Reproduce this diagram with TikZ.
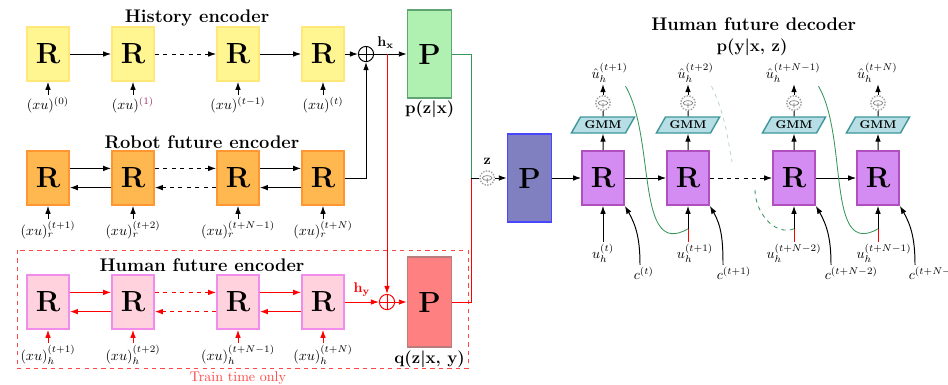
\documentclass[tikz,border=0pt]{standalone}
\usetikzlibrary{shapes.geometric,arrows.meta}

\definecolor{amarillo}{RGB}{255,246,145}
\definecolor{amarilloborde}{RGB}{255,232,120}
\definecolor{naranja}{RGB}{255,184,80}
\definecolor{naranjaborde}{RGB}{255,150,50}
\definecolor{rosa}{RGB}{255,210,222}
\definecolor{rosaborde}{RGB}{240,140,235}
\definecolor{lila}{RGB}{212,140,242}
\definecolor{lilaborde}{RGB}{175,80,190}
\definecolor{verdeP}{RGB}{176,240,176}
\definecolor{verdeborde}{RGB}{95,165,115}
\definecolor{rojoP}{RGB}{255,128,128}
\definecolor{rojoborde}{RGB}{185,125,125}
\definecolor{azulP}{RGB}{128,128,192}
\definecolor{azulborde}{RGB}{70,70,255}
\definecolor{celeste}{RGB}{182,222,228}
\definecolor{celesteborde}{RGB}{60,150,155}
\definecolor{curva}{RGB}{55,150,90}
\definecolor{tren}{RGB}{255,70,70}
\definecolor{morado}{RGB}{150,40,90}

\tikzset{
  caja/.style={draw, line width=1.2pt, minimum width=1.05cm, minimum height=1.35cm, inner sep=0pt, font=\huge\bfseries},
  bloque/.style={draw, line width=1.2pt, minimum width=1.1cm, minimum height=2.2cm, inner sep=0pt, font=\huge\bfseries},
  titulo/.style={font=\fontsize{13}{15}\selectfont\bfseries},
  etiq/.style={inner sep=1pt},
  dist/.style={inner sep=1pt, font=\large\bfseries},
  suma/.style={circle, draw, minimum size=0.38cm, inner sep=0pt,
    path picture={\draw (path picture bounding box.north) -- (path picture bounding box.south)
      (path picture bounding box.west) -- (path picture bounding box.east);}},
  muestra/.style={circle, draw=gray!75, densely dotted, line width=1pt, fill=white, minimum size=0.36cm, inner sep=0pt,
    path picture={\draw[gray, solid, line width=0.5pt] (path picture bounding box.center) ellipse (0.12cm and 0.06cm)
      (path picture bounding box.center) -- ++(0,-0.12);}},
  gmm/.style={trapezium, trapezium left angle=50, trapezium right angle=130, trapezium stretches body,
    draw=celesteborde, fill=celeste, line width=1pt, minimum width=1.58cm, minimum height=0.4cm,
    inner sep=1pt, font=\footnotesize\bfseries},
}

\begin{document}
\begin{tikzpicture}[>={Latex[length=2mm, width=1.4mm]}, line width=0.7pt]
\useasboundingbox (0,0) rectangle (23.7,-9.6);

% Codificador de historia
\node[titulo] (tH) at (4.925,-0.45) {History encoder};
\foreach \x/\n/\idx in {1.2/1/(0), 3.325/2/{\color{morado}(1)}, 5.95/3/(t-1), 8.075/4/(t)} {
	\node[caja, fill=amarillo, draw=amarilloborde] (h\n) at (\x,-1.35) {R};
	\node[etiq] (xh\n) at (\x,-2.62) {$(xu)^{\idx}$};
	\draw[->] (xh\n) -- (h\n);
}
\draw[->] (h1) -- (h2);
\draw[->, dashed] (h2) -- (h3);
\draw[->] (h3) -- (h4);

% Codificador futuro del robot
\node[titulo] (tR) at (5.05,-3.55) {Robot future encoder};
\foreach \x/\n/\idx in {1.2/1/t+1, 3.325/2/t+2, 5.95/3/t+N-1, 8.075/4/t+N} {
	\node[caja, fill=naranja, draw=naranjaborde] (r\n) at (\x,-4.45) {R};
	\node[etiq] (xr\n) at (\x,-5.75) {$(xu)_r^{(\idx)}$};
	\draw[->] (xr\n) -- (r\n);
}
\foreach \a/\b/\e in {1/2/solid, 2/3/dashed, 3/4/solid} {
	\draw[->, \e] ([yshift=0.24cm]r\a.east) -- ([yshift=0.24cm]r\b.west);
	\draw[->, \e] ([yshift=-0.24cm]r\b.west) -- ([yshift=-0.24cm]r\a.east);
}

% Codificador futuro del humano
\draw[tren, dashed, semithick] (0.425,-6.25) rectangle (11.7,-9.2);
\node[text=tren] (tt) at (5.95,-9.45) {Train time only};
\node[titulo] (tF) at (5.05,-6.62) {Human future encoder};
\foreach \x/\n/\idx in {1.2/1/t+1, 3.325/2/t+2, 5.95/3/t+N-1, 8.075/4/t+N} {
	\node[caja, fill=rosa, draw=rosaborde] (f\n) at (\x,-7.55) {R};
	\node[etiq] (xf\n) at (\x,-8.87) {$(xu)_h^{(\idx)}$};
	\draw[->, red] (xf\n) -- (f\n);
}
\foreach \a/\b/\e in {1/2/solid, 2/3/dashed, 3/4/solid} {
	\draw[->, red, \e] ([yshift=0.24cm]f\a.east) -- ([yshift=0.24cm]f\b.west);
	\draw[->, red, \e] ([yshift=-0.24cm]f\b.west) -- ([yshift=-0.24cm]f\a.east);
}

% Sumas y bloques P
\node[suma] (sx) at (9.15,-1.35) {};
\node[suma, red] (sy) at (9.675,-7.55) {};
\node[bloque, fill=verdeP, draw=verdeborde] (Pg) at (10.74,-1.35) {P};
\node[dist] (lPg) at (10.74,-2.72) {p(z\textbar x)};
\node[bloque, fill=rojoP, draw=rojoborde, minimum height=2.25cm] (Pq) at (10.74,-7.55) {P};
\node[dist] (lPq) at (10.74,-8.97) {q(z\textbar x, y)};

\draw[->] (h4) -- (sx);
\draw[->] (sx) -- (Pg) node[pos=0.35, above] {$\mathbf{h_x}$};
\draw[->] (r4) -| (sx);
\coordinate (hxr) at (9.675,-1.35);
\draw[->, red] (hxr) -- (sy);
\draw[->, red] (f4) -- (sy) node[midway, above] {$\mathbf{h_y}$};
\draw[->, red] (sy) -- (Pq);

\coordinate (m) at (11.775,-4.45);
\draw[curva] (Pg) -| (m);
\draw[red] (Pq) -| (m);
\node[muestra] (zs) at (12.18,-4.45) {};
\node[etiq] (lz) at (12.18,-4.03) {$\mathbf{z}$};
\draw (m) -- (zs);
\node[bloque, fill=azulP, draw=azulborde] (Pb) at (13.24,-4.45) {P};
\draw[->] (zs) -- (Pb);

% Decodificador futuro del humano
\node[titulo] (tD) at (18.84,-0.6) {Human future decoder};
\node[dist] (lD) at (18.8,-1.175) {p(y\textbar x, z)};
\foreach \x/\n/\a/\b/\ua/\ub in {15.075/1/t+1/t/15.24/15.075, 17.2/2/t+2/t+1/17.39/17.375,
		19.85/3/t+N-1/t+N-2/19.83/19.85, 21.95/4/t+N/t+N-1/21.93/22.1} {
	\node[caja, fill=lila, draw=lilaborde] (d\n) at (\x,-4.45) {R};
	\node[gmm] (g\n) at (\x,-3.125) {GMM};
	\node[muestra] (s\n) at (\x,-2.575) {};
	\node[etiq] (uh\n) at (\ua,-1.82) {$\hat{u}_h^{(\a)}$};
	\node[etiq, anchor=north] (u\n) at (\ub,-6.05) {$u_h^{(\b)}$};
	\draw[->] (d\n) -- (g\n);
	\draw (g\n) -- (s\n);
	\draw[->] (s\n) -- (uh\n.south -| s\n);
}
\draw[->] (u1.north -| d1) -- (d1);
\foreach \n in {2,3,4} {
	\path (d\n.south) ++(0,-0.575) coordinate (j\n);
	\draw[red] (u\n.north -| d\n) -- (j\n);
	\draw[->] (j\n) -- (d\n);
}
\foreach \n/\cx/\idx in {1/15.8/t, 2/17.875/t+1, 3/20.575/t+N-2, 4/22.675/t+N-1} {
	\node[etiq, anchor=north west] (c\n) at (\cx,-6.62) {$c^{(\idx)}$};
	\draw[->] ([xshift=0.2cm]c\n.north west) to[out=90, in=-60] (d\n.south east);
}
\draw[->] (Pb) -- (d1);
\draw[->] (d1) -- (d2);
\draw[->, dashed] (d2) -- (d3);
\draw[->] (d3) -- (d4);

% Curvas verdes
\draw[curva, semithick] ([shift={(-0.1,-0.05)}]uh1.south east) to[out=-60, in=-150] (j2);
\draw[curva, semithick] ([shift={(-0.1,-0.05)}]uh3.south east) to[out=-60, in=-150] (j4);
\coordinate (q1) at (18.3,-4.05);
\coordinate (q2) at (18.875,-4.75);
\draw[curva!35, dashed, semithick] ([shift={(-0.1,-0.05)}]uh2.south east) to[out=-65, in=100] (q1);
\draw[curva, dashed, semithick] (q2) to[out=-90, in=-160] (j3);
\end{tikzpicture}
\end{document}
